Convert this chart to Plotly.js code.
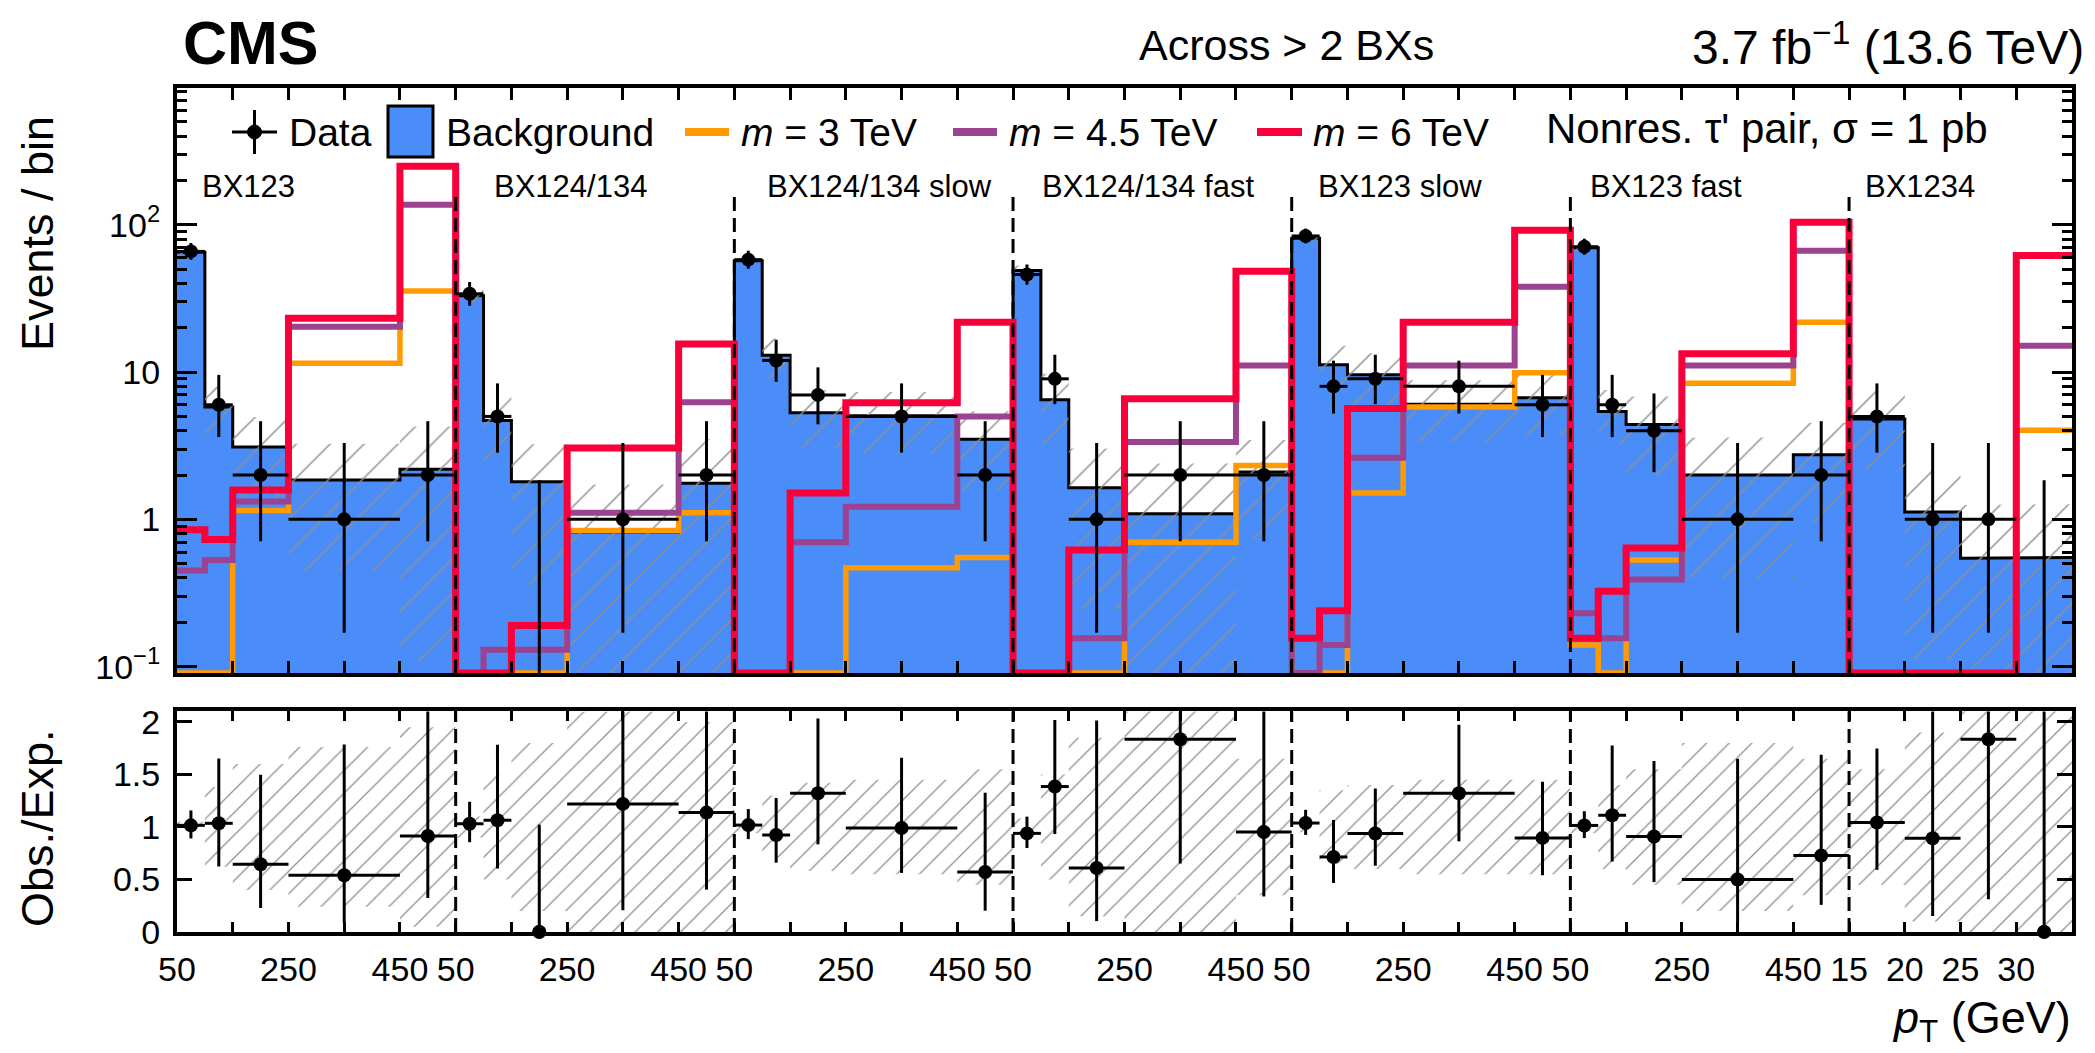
<!DOCTYPE html>
<html>
<head>
<meta charset="utf-8">
<script src="https://cdn.plot.ly/plotly-3.0.1.min.js"></script>
<style>
  html, body { margin: 0; padding: 0; background: #ffffff; }
  #chart { width: 2095px; height: 1053px; }
</style>
</head>
<body>
<div id="chart"></div>
<script>
// ---------------------------------------------------------------------------
// Search regions (delayed-hit categories) and their pT binning
// ---------------------------------------------------------------------------
const regionNames = ['BX123', 'BX124/134', 'BX124/134 slow', 'BX124/134 fast',
                     'BX123 slow', 'BX123 fast', 'BX1234'];
const binEdgesGeV = [50, 100, 150, 250, 450, 550];      // first six regions
const binEdgesLowGeV = [15, 20, 25, 30, 35];            // BX1234 region
const tickLabelsGeV = [50, 250, 450];
const tickLabelsLowGeV = [15, 20, 25, 30];

// ---------------------------------------------------------------------------
// Yields per bin (34 bins: 6 regions x 5 bins + 4 bins)
// ---------------------------------------------------------------------------
const observed = [
  66, 6, 2, 1, 2,
  34, 5, 0, 1, 2,
  58, 12, 7, 5, 2,
  46, 9, 1, 2, 2,
  84, 8, 9, 8, 6,
  71, 6, 4, 1, 2,
  5, 1, 1, 0
];
// Poisson (Garwood) intervals on the observed counts
const observedErrDown = [
  8.1, 2.38, 1.29, 0.83, 1.29,
  5.8, 2.16, 0, 0.83, 1.29,
  7.6, 3.42, 2.58, 2.16, 1.29,
  6.8, 2.94, 0.83, 1.29, 1.29,
  9.1, 2.77, 2.94, 2.77, 2.38,
  8.4, 2.38, 1.91, 0.83, 1.29,
  2.16, 0.83, 0.83, 0
];
const observedErrUp = [
  9.2, 3.58, 2.64, 2.30, 2.64,
  6.9, 3.38, 1.84, 2.30, 2.64,
  8.7, 4.58, 3.77, 3.38, 2.64,
  7.8, 4.11, 2.30, 2.64, 2.64,
  10.2, 3.95, 4.11, 3.95, 3.58,
  9.5, 3.58, 3.16, 2.30, 2.64,
  3.38, 2.30, 2.30, 1.84
];
const background = [
  65, 5.8, 3.1, 1.85, 2.19,
  33, 4.7, 1.8, 0.82, 1.76,
  57, 13, 5.3, 5.05, 3.5,
  49, 6.5, 1.64, 1.09, 2.1,
  81, 11.2, 9.6, 6.06, 6.7,
  70, 5.4, 4.4, 2.0, 2.75,
  4.8, 1.12, 0.545, 0.55
];
// relative uncertainty on the background prediction
const backgroundRelUnc = [
  0.05, 0.38, 0.60, 0.76, 0.95,
  0.10, 0.50, 0.80, 1.10, 1.00,
  0.06, 0.30, 0.42, 0.45, 0.55,
  0.08, 0.50, 0.85, 1.20, 0.65,
  0.05, 0.35, 0.40, 0.45, 0.45,
  0.06, 0.40, 0.55, 0.80, 0.65,
  0.55, 0.90, 1.30, 1.30
];
// Nonresonant tau' pair signal, sigma = 1 pb
const signal3TeV = [
  0, 0, 1.15, 11.5, 35.6,
  0, 0, 0, 0.84, 1.11,
  0, 0, 0, 0.47, 0.55,
  0, 0, 0, 0.70, 2.32,
  0, 0, 1.51, 5.8, 9.9,
  0.14, 0, 0.53, 8.4, 21.8,
  0, 0, 0, 4.03
];
const signal4p5TeV = [
  0.45, 0.53, 1.32, 20.3, 137,
  0, 0.13, 0.13, 1.11, 6.25,
  0, 0, 0.70, 1.22, 5.0,
  0, 0, 0.156, 3.35, 11.1,
  0, 0.14, 2.62, 11.1, 37.9,
  0.23, 0.156, 0.39, 11.1, 66.7,
  0, 0, 0, 15.1
];
const signal6TeV = [
  0.85, 0.73, 1.58, 23.2, 250,
  0, 0, 0.19, 3.05, 15.5,
  0, 0, 1.51, 6.2, 21.8,
  0, 0, 0.62, 6.58, 48.4,
  0.156, 0.24, 5.65, 21.8, 92,
  0.156, 0.325, 0.64, 13.3, 104,
  0, 0, 0, 62
];

// ---------------------------------------------------------------------------
// Composite x axis: each 50-550 GeV region is 5 units wide (100 GeV / unit),
// the BX1234 region (15-35 GeV) is 4 units wide (5 GeV / unit).
// ---------------------------------------------------------------------------
function toAxis(region, pt) {
  if (region < 6) return region * 5 + (pt - 50) / 100;
  return 30 + (pt - 15) / 5;
}
const bins = [];
for (let r = 0; r < regionNames.length; r++) {
  const edges = r < 6 ? binEdgesGeV : binEdgesLowGeV;
  for (let i = 0; i < edges.length - 1; i++) {
    bins.push({ lo: toAxis(r, edges[i]), hi: toAxis(r, edges[i + 1]) });
  }
}
const xMax = toAxis(6, binEdgesLowGeV[binEdgesLowGeV.length - 1]);
const regionStart = regionNames.map((_, r) => toAxis(r, r < 6 ? binEdgesGeV[0] : binEdgesLowGeV[0]));
const centers = bins.map(b => 0.5 * (b.lo + b.hi));
const halfWidths = bins.map(b => 0.5 * (b.hi - b.lo));

// tick marks at every axis unit, labels at selected pT values
const tickVals = [], tickText = [];
for (let g = 0; g <= xMax; g++) { tickVals.push(g); tickText.push(''); }
for (let r = 0; r < regionNames.length; r++) {
  const labels = r < 6 ? tickLabelsGeV : tickLabelsLowGeV;
  labels.forEach(p => { tickText[Math.round(toAxis(r, p))] = String(p); });
}

// ---------------------------------------------------------------------------
// Styles and geometry
// ---------------------------------------------------------------------------
const W = 2095, H = 1053;
const M = { l: 177, r: 23, t: 88, b: 121 };
const plotW = W - M.l - M.r, plotH = H - M.t - M.b;
const px2x = px => (px - M.l) / plotW;          // pixel -> paper x
const px2y = py => (H - M.b - py) / plotH;       // pixel -> paper y
const TOP_DOMAIN = [0.3069, 1];
const RATIO_DOMAIN = [0, 0.2614];
const LOG_RANGE = [-1.043, 2.929];
const FLOOR = Math.pow(10, LOG_RANGE[0]);
const DEEP = 1e-3;

const C_BKG = '#4a8df8';
const C_S3 = '#ff9a00';
const C_S45 = '#9b4290';
const C_S6 = '#f8003a';
const C_HATCH = '#8f8f8f';
const FONT = 'Liberation Sans, Arial, Helvetica, sans-serif';

function stepXY(values, floorVal) {
  const x = [], y = [];
  bins.forEach((b, i) => {
    const v = Math.max(values[i], floorVal);
    x.push(b.lo, b.hi); y.push(v, v);
  });
  return { x, y };
}
function bandXY(lo, hi) {
  const x = [], y = [];
  bins.forEach((b, i) => { x.push(b.lo, b.hi); y.push(hi[i], hi[i]); });
  for (let i = bins.length - 1; i >= 0; i--) { x.push(bins[i].hi, bins[i].lo); y.push(lo[i], lo[i]); }
  return { x, y };
}

const traces = [];

// background histogram (filled)
{
  const s = stepXY(background, DEEP);
  traces.push({
    x: [bins[0].lo, ...s.x, xMax], y: [DEEP, ...s.y, DEEP],
    xaxis: 'x2', yaxis: 'y2', mode: 'lines', fill: 'toself',
    fillcolor: C_BKG, line: { width: 0 }, hoverinfo: 'skip', showlegend: false
  });
  traces.push({
    x: s.x, y: s.y, xaxis: 'x2', yaxis: 'y2', mode: 'lines',
    line: { color: '#000', width: 3 }, hoverinfo: 'skip', showlegend: false
  });
}
// background uncertainty (hatched)
{
  const hi = background.map((b, i) => b * (1 + backgroundRelUnc[i]));
  const lo = background.map((b, i) => Math.max(b * (1 - backgroundRelUnc[i]), DEEP));
  const s = bandXY(lo, hi);
  traces.push({
    x: s.x, y: s.y, xaxis: 'x2', yaxis: 'y2', mode: 'lines', fill: 'toself',
    fillcolor: 'rgba(0,0,0,0)', line: { width: 0 },
    fillpattern: { shape: '/', fgcolor: C_HATCH, bgcolor: 'rgba(0,0,0,0)', size: 24, solidity: 0.06 },
    hoverinfo: 'skip', showlegend: false
  });
}
// signal hypotheses
[[signal3TeV, C_S3, 5.5], [signal4p5TeV, C_S45, 6], [signal6TeV, C_S6, 7]].forEach(([vals, col, w]) => {
  const s = stepXY(vals, FLOOR);
  traces.push({
    x: s.x, y: s.y, xaxis: 'x2', yaxis: 'y2', mode: 'lines',
    line: { color: col, width: w }, hoverinfo: 'skip', showlegend: false
  });
});
// observed data
traces.push({
  x: centers, y: observed.map(n => n > 0 ? n : null),
  xaxis: 'x2', yaxis: 'y2', mode: 'markers',
  marker: { color: '#000', size: 14 },
  error_y: { type: 'data', symmetric: false, array: observedErrUp, arrayminus: observedErrDown,
             color: '#000', thickness: 3, width: 0 },
  error_x: { type: 'data', array: halfWidths, color: '#000', thickness: 3, width: 0 },
  hoverinfo: 'skip', showlegend: false
});
// upper limits for bins without observed events
{
  const x = [], y = [];
  observed.forEach((n, i) => { if (n === 0) { x.push(centers[i], centers[i], null); y.push(DEEP, observedErrUp[i], null); } });
  traces.push({ x, y, xaxis: 'x2', yaxis: 'y2', mode: 'lines', line: { color: '#000', width: 3 },
                hoverinfo: 'skip', showlegend: false });
}

// ratio panel: relative background uncertainty
{
  const hi = backgroundRelUnc.map(r => 1 + r);
  const lo = backgroundRelUnc.map(r => 1 - r);
  const s = bandXY(lo, hi);
  traces.push({
    x: s.x, y: s.y, xaxis: 'x', yaxis: 'y', mode: 'lines', fill: 'toself',
    fillcolor: 'rgba(0,0,0,0)', line: { width: 0 },
    fillpattern: { shape: '/', fgcolor: C_HATCH, bgcolor: 'rgba(0,0,0,0)', size: 16, solidity: 0.08 },
    hoverinfo: 'skip', showlegend: false
  });
}
// ratio panel: observed / expected
{
  const ratio = observed.map((n, i) => n / background[i]);
  traces.push({
    x: centers, y: ratio, xaxis: 'x', yaxis: 'y', mode: 'markers',
    marker: { color: '#000', size: 14 },
    error_y: { type: 'data', symmetric: false,
               array: observedErrUp.map((e, i) => e / background[i]),
               arrayminus: observedErrDown.map((e, i) => e / background[i]),
               color: '#000', thickness: 3, width: 0 },
    error_x: { type: 'data', array: halfWidths.map((h, i) => observed[i] > 0 ? h : 0),
               color: '#000', thickness: 3, width: 0 },
    hoverinfo: 'skip', showlegend: false
  });
  const zx = [], zy = [];
  observed.forEach((n, i) => { if (n === 0) { zx.push(centers[i]); zy.push(0); } });
  traces.push({ x: zx, y: zy, xaxis: 'x', yaxis: 'y', mode: 'markers', cliponaxis: false,
                marker: { color: '#000', size: 14 }, hoverinfo: 'skip', showlegend: false });
}

// ---------------------------------------------------------------------------
// Shapes: region separators and legend symbols
// ---------------------------------------------------------------------------
const shapes = [];
for (let r = 1; r < regionNames.length; r++) {
  const g = regionStart[r];
  shapes.push({ type: 'line', xref: 'x', yref: 'paper', x0: g, x1: g,
                y0: TOP_DOMAIN[0], y1: px2y(195), layer: 'above',
                line: { color: '#000', width: 3, dash: '14px,7px' } });
  shapes.push({ type: 'line', xref: 'x', yref: 'paper', x0: g, x1: g,
                y0: RATIO_DOMAIN[0], y1: RATIO_DOMAIN[1], layer: 'above',
                line: { color: '#000', width: 3, dash: '14px,7px' } });
}
const LEG_Y = 132;
const pline = (x0, x1, y0, y1, color, width) => ({
  type: 'line', xref: 'paper', yref: 'paper',
  x0: px2x(x0), x1: px2x(x1), y0: px2y(y0), y1: px2y(y1),
  line: { color, width }, layer: 'above'
});
shapes.push(pline(232, 277, LEG_Y, LEG_Y, '#000', 3));
shapes.push(pline(254.5, 254.5, 110, 154, '#000', 3));
shapes.push({ type: 'circle', xref: 'paper', yref: 'paper', layer: 'above',
              x0: px2x(247.5), x1: px2x(261.5), y0: px2y(LEG_Y + 7), y1: px2y(LEG_Y - 7),
              fillcolor: '#000', line: { color: '#000', width: 1 } });
shapes.push({ type: 'rect', xref: 'paper', yref: 'paper', layer: 'above',
              x0: px2x(388), x1: px2x(433), y0: px2y(157), y1: px2y(106),
              fillcolor: C_BKG, line: { color: '#000', width: 3 } });
shapes.push(pline(685, 729, LEG_Y, LEG_Y, C_S3, 8));
shapes.push(pline(953, 997, LEG_Y, LEG_Y, C_S45, 8));
shapes.push(pline(1257, 1302, LEG_Y, LEG_Y, C_S6, 8));

// ---------------------------------------------------------------------------
// Annotations: header, legend labels, region labels, axis titles
// ---------------------------------------------------------------------------
const annotations = [];
const txt = (text, xpx, ypx, size, xanchor, extra) => Object.assign({
  text, xref: 'paper', yref: 'paper', x: px2x(xpx), y: px2y(ypx),
  xanchor, yanchor: 'middle', showarrow: false,
  font: { family: FONT, size, color: '#000' }
}, extra || {});

annotations.push(txt('<b>CMS</b>', 181, 43, 61, 'left'));
annotations.push(txt('Across > 2 BXs', 1286, 45, 43, 'center'));
annotations.push(txt('3.7 fb<sup>−1</sup> (13.6 TeV)', 2086, 44, 48, 'right'));

annotations.push(txt('Data', 287, LEG_Y, 39, 'left'));
annotations.push(txt('Background', 444, LEG_Y, 39, 'left'));
annotations.push(txt('<i>m</i> = 3 TeV', 739, LEG_Y, 39, 'left'));
annotations.push(txt('<i>m</i> = 4.5 TeV', 1007, LEG_Y, 39, 'left'));
annotations.push(txt('<i>m</i> = 6 TeV', 1311, LEG_Y, 39, 'left'));
annotations.push(txt('Nonres. τ\' pair, σ = 1 pb', 1544, LEG_Y - 3, 42, 'left'));

const regionLabelShift = [23, 36, 31, 27, 24, 18, 14];
regionNames.forEach((name, r) => {
  annotations.push({
    text: name, xref: 'x2', yref: 'paper', x: regionStart[r], xshift: regionLabelShift[r],
    y: px2y(186), xanchor: 'left', yanchor: 'middle', showarrow: false,
    font: { family: FONT, size: 31, color: '#000' }
  });
});

annotations.push(txt('Events / bin', 38, 234, 45, 'center', { textangle: -90 }));
annotations.push(txt('Obs./Exp.', 37, 828, 45, 'center', { textangle: -90 }));
annotations.push(txt('<i>p</i><sub>T</sub> (GeV)', 2073, 1020, 45, 'right'));

// ---------------------------------------------------------------------------
// Axes
// ---------------------------------------------------------------------------
const minorLog = [];
for (let e = -2; e <= 2; e++) for (let k = 2; k <= 9; k++) minorLog.push(k * Math.pow(10, e));

const frame = { showline: true, linecolor: '#000', linewidth: 4, mirror: 'ticks',
                showgrid: false, zeroline: false, ticks: 'inside', tickcolor: '#000', tickwidth: 3 };

const layout = {
  width: W, height: H, margin: M,
  paper_bgcolor: '#fff', plot_bgcolor: '#fff', showlegend: false,
  font: { family: FONT, color: '#000' },
  xaxis: Object.assign({}, frame, {
    domain: [0, 1], anchor: 'y', range: [0, xMax],
    tickmode: 'array', tickvals: tickVals, ticktext: tickText, ticklen: 10,
    tickfont: { family: FONT, size: 34, color: '#000' }, ticklabelstandoff: 4
  }),
  xaxis2: Object.assign({}, frame, {
    domain: [0, 1], anchor: 'y2', matches: 'x', range: [0, xMax],
    tickmode: 'array', tickvals: tickVals, ticktext: tickText, ticklen: 12,
    showticklabels: false
  }),
  yaxis: Object.assign({}, frame, {
    domain: RATIO_DOMAIN, anchor: 'x', range: [0, 2.1],
    tickmode: 'array', tickvals: [0, 0.5, 1, 1.5, 2], ticktext: ['0', '0.5', '1', '1.5', '2'],
    ticklen: 15, tickfont: { family: FONT, size: 34, color: '#000' }, ticklabelstandoff: 6
  }),
  yaxis2: Object.assign({}, frame, {
    domain: TOP_DOMAIN, anchor: 'x2', type: 'log', range: LOG_RANGE,
    tickmode: 'array', tickvals: [0.1, 1, 10, 100],
    ticktext: ['10<sup>−1</sup>', '1', '10', '10<sup>2</sup>'],
    ticklen: 20, tickfont: { family: FONT, size: 34, color: '#000' }, ticklabelstandoff: 6,
    minor: { ticks: 'inside', ticklen: 10, tickwidth: 3, tickcolor: '#000',
             tickmode: 'array', tickvals: minorLog, showgrid: false }
  }),
  shapes, annotations
};

Plotly.newPlot('chart', traces, layout, { staticPlot: true, displayModeBar: false });
</script>
</body>
</html>
